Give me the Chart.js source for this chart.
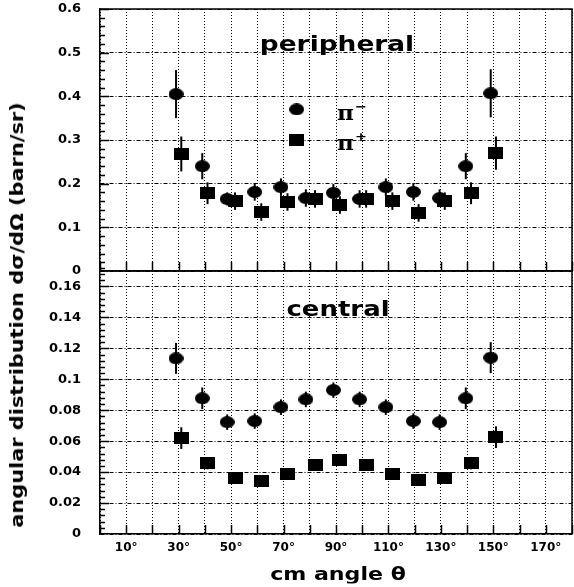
<!DOCTYPE html>
<html>
<head>
<meta charset="utf-8">
<script src="https://cdn.jsdelivr.net/npm/chart.js@4.4.0/dist/chart.umd.min.js"></script>
<style>
body { margin: 0; background: #fff; overflow: hidden; }
#wrap { position: relative; width: 574px; height: 587px; overflow: hidden; }
#topCanvas { position: absolute; left: 0; top: 0; }
#botCanvas { position: absolute; left: 0; top: 262px; }
.lab { position: absolute; font-family: 'DejaVu Sans', sans-serif; font-weight: bold; white-space: nowrap; line-height: 1; color: #000; }
#ytitle { left: 17px; top: 315px; font-size: 18px; transform: translate(-50%, -50%) rotate(-90deg) scaleX(1.16); }
#xtitle { left: 338px; top: 574px; font-size: 17px; transform: translate(-50%, -50%) scaleX(1.3); }
#peri { left: 337px; top: 44px; font-size: 22px; transform: translate(-50%, -50%) scaleX(1.2); }
#cent { left: 338px; top: 309px; font-size: 22px; transform: translate(-50%, -50%) scaleX(1.18); }
.pi { font-family: 'DejaVu Serif', serif; font-weight: bold; font-size: 21px; transform: translate(0, -50%) scaleX(1.1); transform-origin: left center; }
.pi sup { font-family: 'DejaVu Sans', sans-serif; font-weight: bold; font-size: 13px; vertical-align: 9px; margin-left: 1px; }
</style>
</head>
<body>
<div id="wrap">
  <canvas id="topCanvas" width="580" height="280"></canvas>
  <canvas id="botCanvas" width="580" height="325"></canvas>
  <div class="lab" id="ytitle">angular distribution dσ/dΩ (barn/sr)</div>
  <div class="lab" id="xtitle">cm angle θ</div>
  <div class="lab" id="peri">peripheral</div>
  <div class="lab" id="cent">central</div>
  <div class="lab pi" style="left:337px;top:111px">π<sup>−</sup></div>
  <div class="lab pi" style="left:337px;top:141px">π<sup>+</sup></div>
</div>
<script>
// --- DATA ---
// the two series are drawn slightly apart around each nominal angle
const angMinus = [29, 39, 48.5, 59, 69, 78.5, 89, 99, 109, 119.5, 129.5, 139.5, 149];
const angPlus  = [31, 41, 51.5, 61.5, 71.5, 82, 91.5, 101.5, 111.5, 121.5, 131.5, 141.5, 151];

// peripheral
const periMinus    = [0.405, 0.240, 0.165, 0.181, 0.192, 0.167, 0.179, 0.165, 0.192, 0.181, 0.167, 0.240, 0.407];
const periMinusErr = [0.055, 0.030, 0.015, 0.020, 0.020, 0.020, 0.020, 0.020, 0.020, 0.020, 0.020, 0.030, 0.055];
const periPlus     = [0.268, 0.178, 0.160, 0.135, 0.158, 0.165, 0.151, 0.165, 0.160, 0.133, 0.160, 0.178, 0.270];
const periPlusErr  = [0.040, 0.025, 0.020, 0.020, 0.020, 0.020, 0.020, 0.020, 0.020, 0.020, 0.020, 0.025, 0.038];

// central
const centMinus    = [0.1135, 0.0877, 0.0723, 0.073, 0.082, 0.087, 0.093, 0.087, 0.082, 0.073, 0.0723, 0.0877, 0.114];
const centMinusErr = [0.010, 0.007, 0.005, 0.005, 0.005, 0.005, 0.005, 0.005, 0.005, 0.005, 0.005, 0.007, 0.010];
const centPlus     = [0.062, 0.0458, 0.036, 0.034, 0.039, 0.0445, 0.048, 0.0445, 0.039, 0.035, 0.036, 0.0458, 0.0626];
const centPlusErr  = [0.007, 0.004, 0.003, 0.003, 0.003, 0.003, 0.003, 0.003, 0.003, 0.003, 0.003, 0.004, 0.007];

// ticks
const xTickValues = [10, 30, 50, 70, 90, 110, 130, 150, 170];
const xTickLabels = ['10°', '30°', '50°', '70°', '90°', '110°', '130°', '150°', '170°'];
const topTickValues = [0, 0.1, 0.2, 0.3, 0.4, 0.5, 0.6];
const topTickLabels = ['0', '0.1', '0.2', '0.3', '0.4', '0.5', '0.6'];
const botTickValues = [0, 0.02, 0.04, 0.06, 0.08, 0.1, 0.12, 0.14, 0.16];
const botTickLabels = ['0', '0.02', '0.04', '0.06', '0.08', '0.1', '0.12', '0.14', '0.16'];
const xGridValues = [0, 10, 20, 30, 40, 50, 60, 70, 80, 90, 100, 110, 120, 130, 140, 150, 160, 170, 180];

Chart.defaults.font.family = "'DejaVu Sans', sans-serif";
Chart.defaults.font.weight = 'bold';
Chart.defaults.color = '#000';

// --- MARKERS (slightly wider than tall, like the scan) ---
function makeMarker(shape) {
    const c = document.createElement('canvas');
    c.width = 15; c.height = 12;
    const g = c.getContext('2d');
    g.fillStyle = '#000';
    if (shape === 'circle') {
        g.beginPath();
        g.ellipse(7.5, 6, 7.5, 6, 0, 0, Math.PI * 2);
        g.fill();
    } else {
        g.fillRect(0, 0, 15, 12);
    }
    return c;
}
const dot = makeMarker('circle');
const box = makeMarker('rect');

function toPoints(xs, ys) {
    return xs.map((x, i) => ({ x: x, y: ys[i] }));
}

// --- PLUGINS ---
const errorBars = {
    id: 'errorBars',
    beforeDatasetsDraw(chart) {
        const ctx = chart.ctx;
        const yScale = chart.scales.y;
        ctx.save();
        ctx.strokeStyle = '#000';
        ctx.lineWidth = 2;
        chart.data.datasets.forEach((ds, i) => {
            const meta = chart.getDatasetMeta(i);
            meta.data.forEach((pt, j) => {
                const v = ds.data[j].y, e = ds.errors[j];
                ctx.beginPath();
                ctx.moveTo(pt.x, yScale.getPixelForValue(v - e));
                ctx.lineTo(pt.x, yScale.getPixelForValue(v + e));
                ctx.stroke();
            });
        });
        ctx.restore();
    }
};

// frame + ticks pointing into the plot
const frameTicks = {
    id: 'frameTicks',
    afterDraw(chart, args, opts) {
        const ctx = chart.ctx;
        const a = chart.chartArea;
        const xs = chart.scales.x, ys = chart.scales.y;
        ctx.save();
        ctx.strokeStyle = '#000';
        ctx.lineWidth = 1.5;
        ctx.beginPath();
        ctx.moveTo(a.left, a.top); ctx.lineTo(a.right, a.top); ctx.lineTo(a.right, a.bottom);
        ctx.stroke();
        ctx.beginPath();
        const n = Math.round(ys.max / opts.minor);
        for (let k = 1; k <= n; k++) {
            const v = k * opts.minor;
            const y = Math.round(ys.getPixelForValue(v)) + 0.5;
            const len = (k % opts.per === 0) ? 9 : 5;
            ctx.moveTo(a.left, y); ctx.lineTo(a.left + len, y);
        }
        xGridValues.forEach(v => {
            const x = Math.round(xs.getPixelForValue(v)) + 0.5;
            ctx.moveTo(x, a.bottom); ctx.lineTo(x, a.bottom - 9);
        });
        ctx.stroke();
        // legend markers, top panel only
        if (opts.legend) {
            const lx = xs.getPixelForValue(opts.legend.x);
            ctx.drawImage(dot, lx - 7.5, ys.getPixelForValue(opts.legend.yMinus) - 6);
            ctx.drawImage(box, lx - 7.5, ys.getPixelForValue(opts.legend.yPlus) - 6);
        }
        ctx.restore();
    }
};

// tick label offsets come from an invisible tickLength, since ticks.padding
// would also pad the chart area
function xScale(showLabels, height) {
    return {
        type: 'linear', min: 0, max: 180,
        afterBuildTicks: s => { s.ticks = xGridValues.map(v => ({ value: v })); },
        afterFit: s => { s.height = height; },
        grid: { color: '#000', lineWidth: 1, drawTicks: true, tickLength: 7, tickColor: 'rgba(0,0,0,0)' },
        border: { display: true, color: '#000', width: 1.5, dash: [1, 2] },
        ticks: {
            display: showLabels, autoSkip: false, maxRotation: 0, padding: 0,
            font: { size: 12, weight: 'bold' },
            callback: v => { const i = xTickValues.indexOf(v); return i >= 0 ? xTickLabels[i] : ''; }
        }
    };
}

function yScale(max, values, labels) {
    return {
        type: 'linear', min: 0, max: max,
        afterBuildTicks: s => { s.ticks = values.map(v => ({ value: v })); },
        afterFit: s => { s.width = 100; },
        grid: { color: '#000', lineWidth: 1, drawTicks: true, tickLength: 19, tickColor: 'rgba(0,0,0,0)' },
        border: { display: true, color: '#000', width: 1.5, dash: [4, 2, 1, 2] },
        ticks: {
            padding: 0, font: { size: 13, weight: 'bold' },
            callback: v => { const i = values.indexOf(v); return i >= 0 ? labels[i] : ''; }
        }
    };
}

function datasets(yMinus, eMinus, yPlus, ePlus) {
    return [
        { label: 'π−', data: toPoints(angMinus, yMinus), errors: eMinus, pointStyle: dot, pointRadius: 7, showLine: false },
        { label: 'π+', data: toPoints(angPlus, yPlus), errors: ePlus, pointStyle: box, pointRadius: 7, showLine: false }
    ];
}

new Chart(document.getElementById('topCanvas'), {
    type: 'scatter',
    data: { datasets: datasets(periMinus, periMinusErr, periPlus, periPlusErr) },
    options: {
        responsive: false, animation: false, devicePixelRatio: 1,
        layout: { padding: { top: 9, bottom: 9, left: 0, right: 5 } },
        plugins: {
            legend: { display: false }, tooltip: { enabled: false },
            frameTicks: { minor: 0.02, per: 5, legend: { x: 75, yMinus: 0.37, yPlus: 0.30 } }
        },
        scales: { x: xScale(false, 0), y: yScale(0.6, topTickValues, topTickLabels) }
    },
    plugins: [errorBars, frameTicks]
});

new Chart(document.getElementById('botCanvas'), {
    type: 'scatter',
    data: { datasets: datasets(centMinus, centMinusErr, centPlus, centPlusErr) },
    options: {
        responsive: false, animation: false, devicePixelRatio: 1,
        layout: { padding: { top: 9, bottom: 0, left: 0, right: 5 } },
        plugins: {
            legend: { display: false }, tooltip: { enabled: false },
            frameTicks: { minor: 0.004, per: 5 }
        },
        scales: { x: xScale(true, 53), y: yScale(0.17, botTickValues, botTickLabels) }
    },
    plugins: [errorBars, frameTicks]
});
</script>
</body>
</html>
